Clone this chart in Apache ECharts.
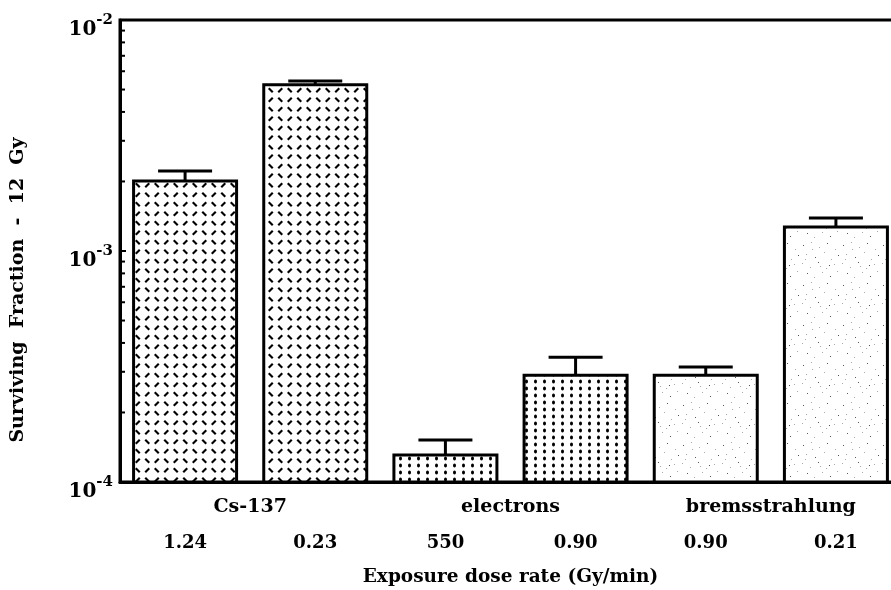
<!DOCTYPE html>
<html>
<head>
<meta charset="utf-8">
<script src="https://cdn.jsdelivr.net/npm/echarts@6/dist/echarts.min.js"></script>
<style>html,body{margin:0;padding:0;background:#fff;}#c{width:891px;height:590px;}</style>
</head>
<body>
<div id="c"></div>
<script>
// ---- data ----
const doseRates = ['1.24', '0.23', '550', '0.90', '0.90', '0.21'];
const groups = ['Cs-137', 'electrons', 'bremsstrahlung'];
const survival = [2.01e-3, 5.25e-3, 1.31e-4, 2.9e-4, 2.9e-4, 1.27e-3];
const errorTop = [2.22e-3, 5.45e-3, 1.52e-4, 3.47e-4, 3.15e-4, 1.39e-3];
const barPattern = ['plate', 'plate', 'dots', 'dots', 'stipple', 'stipple'];
const minorTicks = [2e-4, 3e-4, 4e-4, 5e-4, 6e-4, 7e-4, 8e-4, 9e-4, 2e-3, 3e-3, 4e-3, 5e-3, 6e-3, 7e-3, 8e-3, 9e-3];
const yMin = 1e-4, yMax = 1e-2;

const FONT = '"DejaVu Serif", "Liberation Serif", serif';

function makePattern(kind) {
  const c = document.createElement('canvas');
  const ctx = c.getContext('2d');
  if (kind === 'plate') {
    c.width = 19; c.height = 19;
    ctx.fillStyle = '#fff'; ctx.fillRect(0, 0, 19, 19);
    ctx.strokeStyle = '#000'; ctx.lineWidth = 2.2; ctx.lineCap = 'butt';
    const seg = (cx, cy, dir) => {
      ctx.beginPath();
      ctx.moveTo(cx - 2, cy - 2 * dir);
      ctx.lineTo(cx + 2, cy + 2 * dir);
      ctx.stroke();
    };
    seg(4.75, 4.75, -1); seg(14.25, 14.25, -1);
    seg(14.25, 4.75, 1); seg(4.75, 14.25, 1);
  } else if (kind === 'dots') {
    c.width = 9; c.height = 7;
    ctx.fillStyle = '#fff'; ctx.fillRect(0, 0, 9, 7);
    ctx.fillStyle = '#000';
    ctx.beginPath(); ctx.ellipse(4.5, 3.5, 1.5, 2, 0, 0, Math.PI * 2); ctx.fill();
  } else {
    c.width = 40; c.height = 40;
    ctx.fillStyle = '#fff'; ctx.fillRect(0, 0, 40, 40);
    const pts = [[3,5],[11,2],[19,7],[27,3],[35,9],[6,14],[15,17],[24,12],[31,19],[38,15],
                 [2,23],[10,27],[18,22],[26,28],[34,24],[7,33],[14,37],[22,32],[30,36],[37,31],
                 [12,9],[29,25],[20,26],[5,19]];
    pts.forEach((p, i) => {
      ctx.fillStyle = i % 3 === 0 ? '#555' : '#aaa';
      ctx.fillRect(p[0], p[1], 1, 1);
    });
  }
  return { type: 'pattern', image: c, repeat: 'repeat' };
}

const patterns = { plate: makePattern('plate'), dots: makePattern('dots'), stipple: makePattern('stipple') };

const chart = echarts.init(document.getElementById('c'), null, { renderer: 'canvas' });

const option = {
  animation: false,
  backgroundColor: '#fff',
  grid: { left: 120, top: 20, width: 781, height: 462, outerBoundsMode: 'none', containLabel: false,
          show: true, borderColor: '#000', borderWidth: 3, backgroundColor: 'transparent' },
  xAxis: [
    {
      type: 'category', data: doseRates, position: 'bottom',
      axisLine: { lineStyle: { color: '#000', width: 3 } },
      axisTick: { show: false },
      axisLabel: { margin: 52, color: '#000', fontFamily: FONT, fontWeight: 'bold', fontSize: 18 },
      name: 'Exposure dose rate (Gy/min)', nameLocation: 'middle', nameGap: 86,
      nameTextStyle: { color: '#000', fontFamily: FONT, fontWeight: 'bold', fontSize: 18.5 }
    },
    {
      type: 'category', data: groups, position: 'bottom', gridIndex: 0,
      axisLine: { show: false }, axisTick: { show: false },
      axisLabel: { margin: 16, color: '#000', fontFamily: FONT, fontWeight: 'bold', fontSize: 19 }
    }
  ],
  yAxis: {
    type: 'log', min: yMin, max: yMax, logBase: 10,
    axisLine: { show: true, lineStyle: { color: '#000', width: 3 } },
    axisTick: { show: true, inside: true, length: 6, lineStyle: { color: '#000', width: 2 } },
    splitLine: { show: false },
    axisLabel: {
      margin: 7, color: '#000',
      formatter: v => '{b|10}{s|' + Math.round(Math.log10(v)) + '}',
      rich: {
        b: { fontFamily: FONT, fontWeight: 'bold', fontSize: 20, color: '#000', padding: [20, 0, 0, 0] },
        s: { fontFamily: FONT, fontWeight: 'bold', fontSize: 15, color: '#000', padding: [0, 0, 0, 0] }
      }
    }
  },
  graphic: [{
    type: 'text', x: 18, y: 290, rotation: Math.PI / 2,
    style: { text: 'Surviving  Fraction  -  12  Gy', fontFamily: FONT, fontWeight: 'bold', fontSize: 19, fill: '#000', align: 'center', verticalAlign: 'middle' }
  }],
  series: [
    {
      type: 'custom', xAxisIndex: 0,
      data: survival.map((v, i) => [i, v]),
      renderItem: (params, api) => {
        const i = api.value(0);
        const top = api.coord([i, api.value(1)]);
        const bot = api.coord([i, yMin]);
        const w = 103;
        return {
          type: 'rect',
          shape: { x: top[0] - w / 2, y: top[1], width: w, height: bot[1] - top[1] },
          style: { fill: patterns[barPattern[params.dataIndex]], stroke: '#000', lineWidth: 3 }
        };
      },
      z: 4
    },
    {
      type: 'custom', xAxisIndex: 0,
      data: survival.map((v, i) => [i, v, errorTop[i]]),
      renderItem: (params, api) => {
        const base = api.coord([api.value(0), api.value(1)]);
        const top = api.coord([api.value(0), api.value(2)]);
        return { type: 'group', children: [
          { type: 'line', shape: { x1: base[0], y1: base[1], x2: top[0], y2: top[1] }, style: { stroke: '#000', lineWidth: 3 } },
          { type: 'line', shape: { x1: top[0] - 27, y1: top[1], x2: top[0] + 27, y2: top[1] }, style: { stroke: '#000', lineWidth: 3 } }
        ]};
      },
      z: 5
    },
    {
      type: 'custom', xAxisIndex: 0, clip: false,
      data: minorTicks.map(v => [0, v]),
      renderItem: (params, api) => {
        const p = api.coord([0, api.value(1)]);
        const x0 = p[0] - api.size([1, 0])[0] / 2;
        return { type: 'line', shape: { x1: x0, y1: p[1], x2: x0 + 5, y2: p[1] }, style: { stroke: '#000', lineWidth: 2 } };
      },
      z: 6
    }
  ]
};
chart.setOption(option);
</script>
</body>
</html>
